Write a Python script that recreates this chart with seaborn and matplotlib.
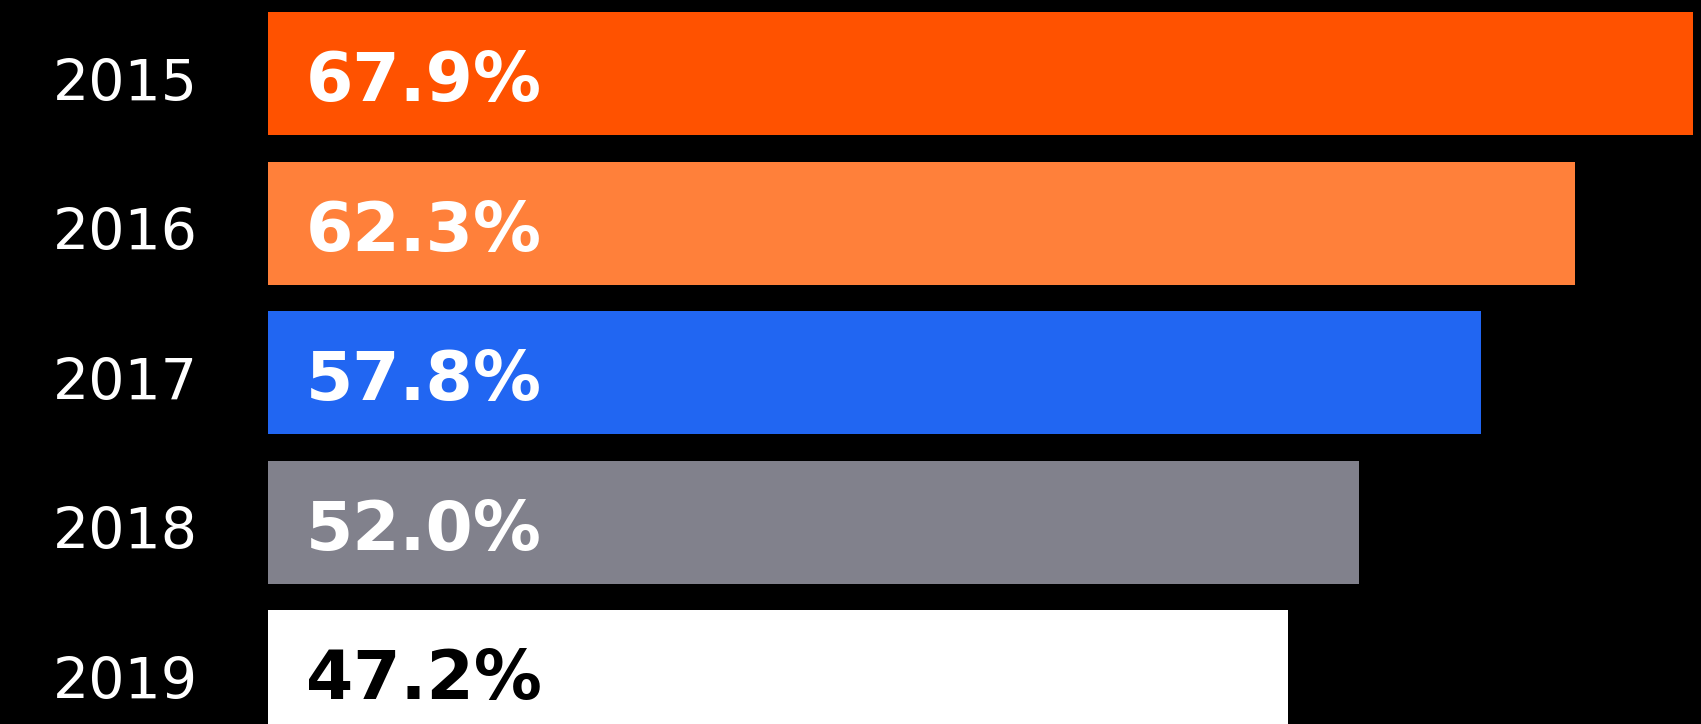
import matplotlib
matplotlib.use("Agg")
import matplotlib.pyplot as plt
import seaborn as sns

# Dados
anos = ['2015', '2016', '2017', '2018', '2019']
rotulos = ['67.9%', '62.3%', '57.8%', '52.0%', '47.2%']
# comprimento das barras (o de 2019 é desenhado mais longo que o rótulo)
valores = [67.9, 62.3, 57.8, 52.0, 48.6]
cores = ['#FF5200', '#FF803A', '#2166F2', '#81818C', '#FFFFFF']
cores_texto = ['white', 'white', 'white', 'white', 'black']

sns.set_style('white')
plt.rcParams['font.family'] = ['DejaVu Sans']

fig = plt.figure(figsize=(17.01, 7.24), dpi=100, facecolor='black')
ax = fig.add_axes([268 / 1701, 0, 1 - 268 / 1701, 1])
ax.set_facecolor('black')

sns.barplot(x=valores, y=anos, hue=anos, palette=cores, orient='h',
            width=0.823, saturation=1, legend=False, linewidth=0, ax=ax)

ax.set_xlim(0, 68.3)
ax.set_ylim(4.351, -0.495)

# rótulos de valor dentro das barras
for i, (rot, cor) in enumerate(zip(rotulos, cores_texto)):
    ax.annotate(rot, xy=(0, i), xytext=(27.5, -1), textcoords='offset points',
                ha='left', va='center_baseline', fontsize=49, fontweight='bold',
                color=cor)

# anos à esquerda, alinhados à esquerda
for i, ano in enumerate(anos):
    ax.annotate(ano, xy=(0, i), xytext=(-155, -4), textcoords='offset points',
                ha='left', va='center_baseline', fontsize=41, color='white',
                annotation_clip=False)

ax.set_xlabel('')
ax.set_ylabel('')
ax.set_xticks([])
ax.set_yticks([])
sns.despine(ax=ax, left=True, bottom=True)

fig.savefig('out.png', dpi=100, facecolor='black')
